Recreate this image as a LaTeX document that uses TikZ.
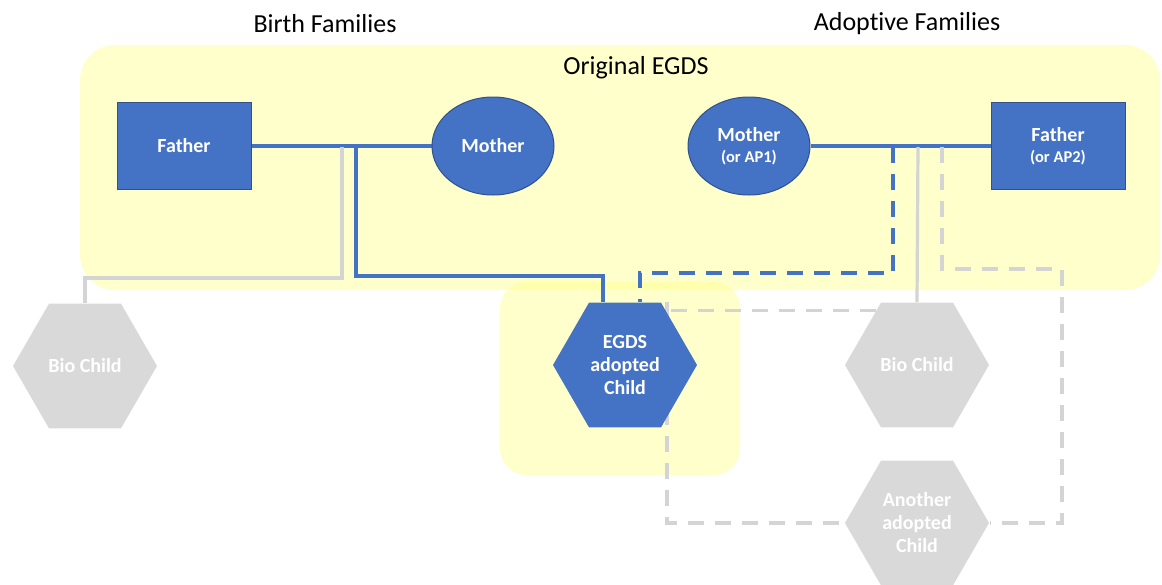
\documentclass[tikz,border=0pt]{standalone}
\usepackage{fontspec}
\setmainfont{Carlito}[Ligatures=NoCommon]
\usetikzlibrary{shapes.geometric}
\definecolor{egblue}{HTML}{4472C4}
\definecolor{egedge}{HTML}{2F528F}
\definecolor{eggray}{HTML}{D9D9D9}
\definecolor{egline}{HTML}{D4D4D4}
\definecolor{egyellow}{HTML}{FFFF80}
\pgfdeclarelayer{bg}
\pgfdeclarelayer{links}
\pgfsetlayers{bg,links,main}

\begin{document}
\begin{tikzpicture}
			[x=1pt,y=-1pt,
			person/.style={draw=egedge, line width=1pt, fill=egblue, text=white, align=center, inner sep=0pt, font=\fontsize{20}{23}\selectfont\bfseries},
			male/.style={person, rectangle, minimum width=134, minimum height=87},
			female/.style={person, ellipse, minimum width=122, minimum height=98},
			child/.style={person, draw=none, regular polygon, regular polygon sides=6, minimum size=144},
			ghost/.style={child, fill=eggray},
			title/.style={font=\fontsize{26}{30}\selectfont},
			bond/.style={egblue, line width=3.2pt},
			faded/.style={egline, line width=3.2pt},
			dashy/.style={dash pattern=on 16pt off 11pt}]
			\useasboundingbox (0,0) rectangle (1162,584);
			
			\node[title] (birth) at (325,24) {Birth Families};
			\node[title] (adopt) at (907,24) {Adoptive Families};
			\node[title] (egds) at (636,68) {Original EGDS};
			
			\node[male]    (bf) at (184,146) {Father};
			\node[female]  (bm) at (493,146) {Mother};
			\node[female]  (am) at (749,146) {Mother\\[-2pt]{\fontsize{16.5}{19}\selectfont (or AP1)}};
			\node[male]    (af) at (1058,146) {Father\\[-2pt]{\fontsize{16.5}{19}\selectfont (or AP2)}};
			
			\node[ghost]   (bc1) at (85,366) {Bio Child};
			\node[child]   (ec)  at (625,365) {EGDS\\adopted\\Child};
			\node[ghost]   (bc2) at (917,365) {Bio Child};
			\node[ghost]   (oc)  at (917,523) {Another\\adopted\\Child};
			
			\coordinate (bj1) at (342,147);
			\coordinate (bj2) at (356,147);
			\coordinate (aj1) at (893,147);
			\coordinate (aj2) at (918,147);
			\coordinate (aj3) at (942,147);
			\coordinate (ar) at (1062,269);
			
			\begin{pgfonlayer}{bg}
			\fill[egyellow, fill opacity=0.4, rounded corners=35] (80,45) rectangle (1160,290);
			\fill[egyellow, fill opacity=0.4, rounded corners=26] (500,282) rectangle (740,475);
			\end{pgfonlayer}
			
			\begin{pgfonlayer}{links}
			\draw[bond] (bf) -- (bm);
			\draw[bond] (am) -- (af);
			\draw[faded] (bj1) -- ++(0,131) -| (bc1.north);
			\draw[bond] (bj2) -- ++(0,129) -| ([xshift=-22pt]ec.north);
			\draw[bond, dashy] (aj1) -- ++(0,126) -| ([xshift=15pt]ec.north);
			\draw[faded] (aj2) -- (bc2.north);
			\draw[faded, dashy] (aj3) |- (ar) |- (oc.east);
			\draw[faded, dashy] (bc2.127) -| ([xshift=42pt]ec.north) |- (oc.west);
			\end{pgfonlayer}
		\end{tikzpicture}
\end{document}
